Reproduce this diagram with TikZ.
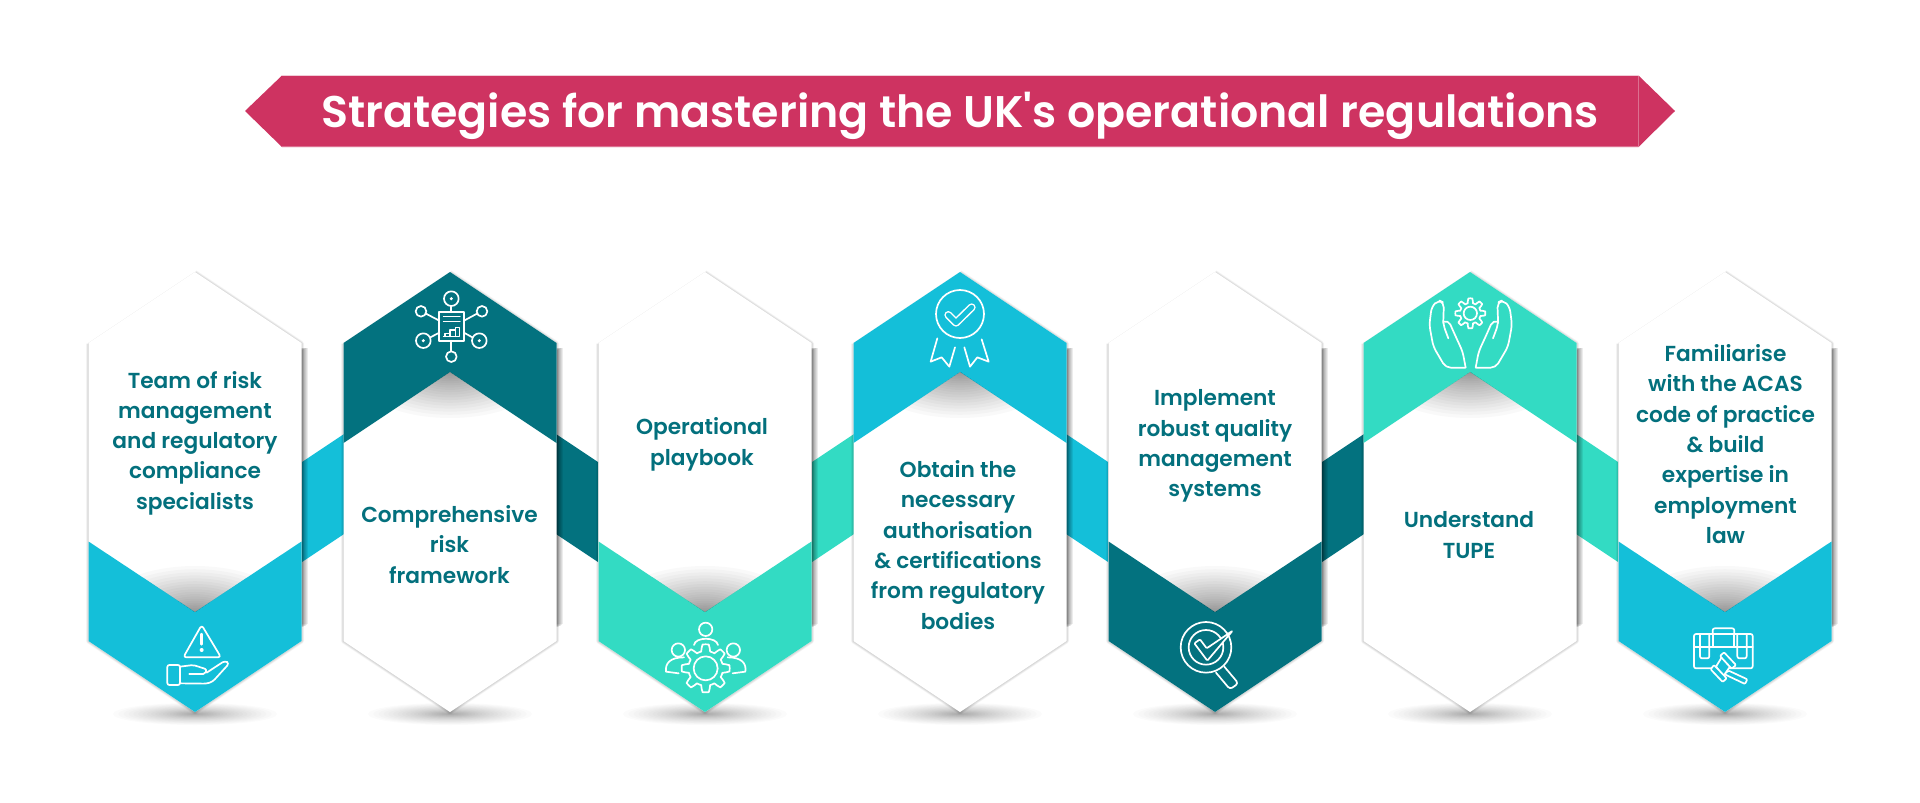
\documentclass[tikz,border=0pt]{standalone}
\usepackage{fontspec}
\usetikzlibrary{calc}
\newfontfamily\labelfont{Poppins SemiBold}
\newfontfamily\titlefont{Poppins SemiBold}
\definecolor{cya}{HTML}{14BFD9}
\definecolor{drk}{HTML}{03727F}
\definecolor{mnt}{HTML}{33DBC3}
\definecolor{rse}{HTML}{CE3361}
\definecolor{txt}{HTML}{03707D}
\tikzset{
  lbl/.style={font=\labelfont\fontsize{21.7}{30.3}\selectfont,text=txt,align=center,inner sep=0pt},
  ico/.style={draw=white,line width=1.7pt,line join=round,line cap=round},
}
\newcommand{\softell}[5]{% cx cy rx ry maxopacity
  \foreach \k in {1,...,26}{
    \pgfmathsetmacro{\ff}{(\k/26)^1.7}
    \fill[black,opacity=#5/26] (#1,#2) ellipse [x radius={#3*\ff},y radius={#4*\ff}];
  }}
\newcommand{\hexpath}[1]{(#1-106.5,343) -- (#1,272) -- (#1+106.5,343) -- (#1+106.5,641) -- (#1,712) -- (#1-106.5,641) -- cycle}
\newcommand{\gearplot}[6]{% cx cy rmid amp teeth rot
  plot[domain=0:360,samples=#5*12+1] ({#1+(#3+#4*max(-1,min(1,2.6*sin(#5*\x+#6))))*cos(\x)},{#2+(#3+#4*max(-1,min(1,2.6*sin(#5*\x+#6))))*sin(\x)})}
\begin{document}
\begin{tikzpicture}[x=1pt,y=-1pt]
\useasboundingbox (0,0) rectangle (1920,803);
\fill[white] (0,0) rectangle (1920,803);
% ---- title
\fill[rse] (245,111) -- (282,75.5) -- (1638.5,75.5) -- (1675,111) -- (1638.5,147) -- (282,147) -- cycle;
\draw[white,opacity=.3,line width=.7pt] (282,75.8) -- (1638.5,75.8) -- (1638.5,146.8) -- (282,146.8);
\node[font=\titlefont\fontsize{44.3}{50}\selectfont,text=white,inner sep=0pt,anchor=base] (title) at (960,127) {Strategies for mastering the UK's operational regulations};
% ---- ribbons
\foreach \a/\c in {302/cya,812/mnt,1322/drk}{
  \fill[\c] (\a,462) -- (\a+42,434) -- (\a+42,534) -- (\a,562) -- cycle;
}
\foreach \a/\c in {556/drk,1066/cya,1576/mnt}{
  \fill[\c] (\a,434) -- (\a+42,462) -- (\a+42,562) -- (\a,534) -- cycle;
}
% ---- hexagons
\foreach \cx/\c/\up in {195/cya/0,450/drk/1,705/mnt/0,960/cya/1,1215/drk/0,1470/mnt/1,1725/cya/0}{
  \softell{\cx}{714}{82}{11}{.42}
  % right-hand cast shadow
  \foreach \w in {1,...,6}{
    \fill[black,opacity=.075] (\cx+100,{350-\w*.4}) rectangle (\cx+106.5+\w,{628-\w*.6});
  }
  % soft edge shadows (left, lower and upper right)
  \foreach \w in {1,...,5}{
    \draw[black,opacity=.035,line width=\w pt,line join=round] (\cx,272.5) -- (\cx+106.5,343.5) -- (\cx+106.5,641) -- (\cx,712) -- (\cx-106.5,641) -- (\cx-106.5,343.5);
  }
  \draw[black,opacity=.09,line width=1.2pt] (\cx-106.5,343.5) -- (\cx,272.5);
  \fill[white] \hexpath{\cx};
  \ifnum\up=0
    \fill[\c] (\cx-106.5,541.5) -- (\cx,612) -- (\cx+106.5,541.5) -- (\cx+106.5,641) -- (\cx,712) -- (\cx-106.5,641) -- cycle;
    \begin{scope}
      \clip (\cx-106.5,343) -- (\cx,272) -- (\cx+106.5,343) -- (\cx+106.5,541.5) -- (\cx,612) -- (\cx-106.5,541.5) -- cycle;
      \softell{\cx}{616}{100}{50}{.62}
    \end{scope}
  \else
    \fill[\c] (\cx-106.5,343) -- (\cx,272) -- (\cx+106.5,343) -- (\cx+106.5,443) -- (\cx,372) -- (\cx-106.5,443) -- cycle;
    \begin{scope}
      \clip (\cx-106.5,443) -- (\cx,372) -- (\cx+106.5,443) -- (\cx+106.5,641) -- (\cx,712) -- (\cx-106.5,641) -- cycle;
      \softell{\cx}{368}{100}{50}{.62}
    \end{scope}
  \fi
}
% ---- labels
\node[lbl] (t1) at (195,443) {Team of risk\\management\\and regulatory\\compliance\\specialists};
\node[lbl] (t2) at (449.5,544.5) {Comprehensive\\risk\\framework};
\node[lbl] (t3) at (702,444.5) {Operational\\playbook};
\node[lbl] (t4) at (958,545) {Obtain the\\necessary\\authorisation\\\& certifications\\from regulatory\\bodies};
\node[lbl] (t5) at (1215,446) {Implement\\robust quality\\management\\systems};
\node[lbl] (t6) at (1469,535) {Understand\\TUPE};
\node[lbl] (t7) at (1725.5,444) {Familiarise\\with the ACAS\\code of practice\\\& build\\expertise in\\employment\\law};
% ---- icon 1: hand with warning
\begin{scope}[shift={(60,250)},scale=1/3]
  \draw[ico,rounded corners=3pt] (425,1125) -- (483,1222) -- (370,1222) -- cycle;
  \draw[ico,line width=2.4pt] (425,1152) -- (425,1183);
  \fill[white] (425,1200) circle (6);
  \draw[ico,rounded corners=2pt] (322,1245) rectangle (360,1305);
  \draw[ico,rounded corners=2pt] (360,1250) -- (400,1245) -- (440,1258) -- (436,1272) -- (388,1272);
  \draw[ico,rounded corners=3pt] (440,1268) -- (495,1232) -- (508,1240) -- (458,1295) -- (440,1301) -- (360,1300);
\end{scope}
% ---- icon 2: network
\begin{scope}[shift={(60,250)},scale=1/3]
  \draw[ico] (1138,185) rectangle (1212,272);
  \draw[ico,line width=1.1pt] (1150,200) -- (1200,200) (1150,215) -- (1200,215);
  \draw[ico,line width=1.1pt] (1150,260) -- (1198,260) -- (1198,232) -- (1186,232) -- (1186,260) (1186,240) -- (1170,240) -- (1170,260) (1170,250) -- (1155,250) -- (1155,260);
  \foreach \x/\y in {1174/146,1090/272,1258/272}{
    \draw[ico] (\x,\y) circle (22);
    \fill[white] (\x,\y) circle (5);
  }
  \foreach \x/\y in {1083/184,1266/184,1174/320}{
    \draw[ico] (\x,\y) circle (16);
  }
  \draw[ico] (1174,168) -- (1174,185) (1174,272) -- (1174,304);
  \draw[ico] (1098,191) -- (1138,212) (1251,191) -- (1212,212);
  \draw[ico] (1111,262) -- (1138,248) (1237,262) -- (1212,248);
\end{scope}
% ---- icon 3: gear and people
\begin{scope}[shift={(580,250)},scale=1/3]
  \draw[ico] (377,1138) circle (20) (295,1200) circle (20) (460,1200) circle (20);
  \draw[ico] (342,1185) .. controls (345,1160) and (410,1160) .. (414,1185);
  \draw[ico] (312,1222) .. controls (270,1222) and (255,1240) .. (258,1265) -- (296,1270);
  \draw[ico] (443,1222) .. controls (485,1222) and (500,1240) .. (496,1265) -- (458,1270);
  \draw[ico] \gearplot{377}{1255}{62}{10}{8}{90} -- cycle;
  \draw[ico] (377,1255) circle (36);
\end{scope}
% ---- icon 4: badge
\begin{scope}[shift={(580,250)},scale=1/3]
  \draw[ico] (1140,192) circle (72);
  \draw[white,line width=8pt,line cap=round,line join=round] (1105,195) -- (1128,218) -- (1175,172);
  \draw[cya,line width=5pt,line cap=round,line join=round] (1105,195) -- (1128,218) -- (1175,172);
  \draw[ico] (1072,265) -- (1052,335) -- (1085,322) -- (1108,350) -- (1125,292);
  \draw[ico] (1205,268) -- (1226,335) -- (1192,322) -- (1170,350) -- (1153,292);
\end{scope}
% ---- icon 5: magnifier
\begin{scope}[shift={(1090,250)},scale=1/3]
  \draw[ico] (348,1192) circle (76) (348,1192) circle (52);
  \draw[ico,rounded corners=3pt] (378,1268) -- (420,1318) -- (445,1300) -- (403,1250);
  \draw[ico,fill=drk,rounded corners=1pt] (313,1180) -- (330,1168) -- (350,1195) -- (428,1142) -- (352,1232) -- cycle;
\end{scope}
% ---- icon 6: hands with gear
\begin{scope}[shift={(1090,250)},scale=1/3]
  \draw[ico] \gearplot{1141}{190}{38}{7}{8}{90} -- cycle;
  \draw[ico] (1141,190) circle (20);
  \draw[ico,rounded corners=5pt] (1125,353) -- (1067,353) -- (1030,290) -- (1018,225) -- (1025,170) -- (1045,150) -- (1062,158) -- (1060,205) -- (1060,225) -- (1075,265);
  \draw[ico,rounded corners=5pt] (1060,215) -- (1075,210) -- (1095,255) -- (1118,305) -- (1127,353);
  \draw[ico,rounded corners=5pt] (1159,353) -- (1217,353) -- (1254,290) -- (1266,225) -- (1259,170) -- (1239,150) -- (1222,158) -- (1224,205) -- (1224,225) -- (1209,265);
  \draw[ico,rounded corners=5pt] (1224,215) -- (1209,210) -- (1189,255) -- (1166,305) -- (1157,353);
\end{scope}
% ---- icon 7: briefcase and gavel
\begin{scope}[shift={(1500,250)},scale=1/3]
  \draw[ico,rounded corners=2pt] (582,1152) rectangle (758,1255);
  \draw[ico,rounded corners=2pt] (638,1152) -- (638,1135) -- (703,1135) -- (703,1152);
  \draw[ico] (582,1190) -- (758,1190) (638,1152) -- (638,1190) (703,1152) -- (703,1190);
  \draw[ico,rounded corners=2pt] (600,1152) -- (600,1225) -- (628,1225) -- (628,1152);
  \draw[ico,rounded corners=2pt] (712,1152) -- (712,1225) -- (740,1225) -- (740,1152);
  \draw[ico,fill=cya,rounded corners=1pt] (686,1262) -- (742,1288) -- (735,1302) -- (672,1272) -- cycle;
  \draw[ico,fill=cya,rounded corners=1pt] (665,1222) -- (690,1250) -- (670,1278) -- (648,1250) -- cycle;
  \draw[ico,fill=cya,rounded corners=1pt] (672,1207) -- (708,1245) -- (695,1256) -- (660,1218) -- cycle;
  \draw[ico,fill=cya,rounded corners=1pt] (642,1245) -- (680,1285) -- (668,1296) -- (632,1258) -- cycle;
\end{scope}
\end{tikzpicture}
\end{document}
